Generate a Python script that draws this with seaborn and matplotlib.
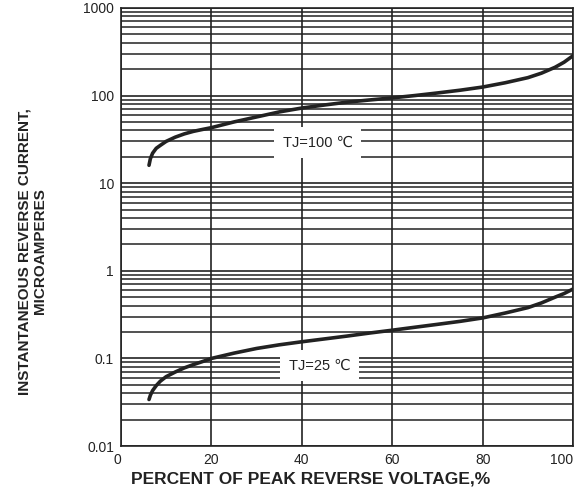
import numpy as np
import pandas as pd
import matplotlib
matplotlib.use("Agg")
import matplotlib.pyplot as plt
import seaborn as sns
from matplotlib.ticker import FixedLocator, LogLocator, NullFormatter

# curve data (percent of peak reverse voltage vs microamperes)
pct_100 = [6.2, 6.5, 7, 7.8, 8.7, 10, 12, 14, 16, 18, 20, 25, 30, 35, 40, 45, 50, 55, 60,
           65, 70, 75, 80, 85, 90, 93, 96, 98, 100]
cur_100 = [16, 19, 22, 25, 27, 30, 33.5, 36.5, 39, 41, 43, 50, 57, 65, 72, 78, 84, 89, 94,
           100, 107, 115, 125, 140, 160, 180, 210, 240, 285]
pct_25 = [6.2, 6.5, 7, 7.8, 8.7, 10, 12, 14, 16, 18, 20, 25, 30, 35, 40, 45, 50, 55, 60,
          65, 70, 75, 80, 85, 90, 93, 96, 98, 100]
cur_25 = [0.034, 0.038, 0.043, 0.049, 0.055, 0.062, 0.07, 0.078, 0.085, 0.092, 0.1, 0.115,
          0.13, 0.143, 0.155, 0.167, 0.18, 0.195, 0.21, 0.227, 0.245, 0.265, 0.29, 0.33,
          0.38, 0.43, 0.5, 0.55, 0.62]

x_ticks = [0, 20, 40, 60, 80, 100]
y_ticks = [0.01, 0.1, 1, 10, 100, 1000]
y_labels = ["0.01", "0.1", "1", "10", "100", "1000"]

df = pd.concat([
    pd.DataFrame({"pct": pct_100, "cur": cur_100, "tj": "100"}),
    pd.DataFrame({"pct": pct_25, "cur": cur_25, "tj": "25"}),
])

sns.set_style("white")
plt.rcParams["font.family"] = ["Liberation Sans", "DejaVu Sans"]

fig = plt.figure(figsize=(5.83, 4.94), dpi=100)
ax = fig.add_axes([0.2075, 0.097, 0.7755, 0.887])

ax.set_yscale("log")
ax.set_xlim(0, 100)
ax.set_ylim(0.01, 1000)

# grid lines
ax.xaxis.set_major_locator(FixedLocator(x_ticks))
ax.yaxis.set_major_locator(FixedLocator(y_ticks))
ax.yaxis.set_minor_locator(LogLocator(base=10, subs=np.arange(2, 10)))
ax.yaxis.set_minor_formatter(NullFormatter())
ax.set_xticklabels([str(v) for v in x_ticks])
ax.set_yticklabels(y_labels)
ax.grid(True, which="major", axis="both", color="#222222", linewidth=1.2)
ax.grid(True, which="minor", axis="y", color="#222222", linewidth=1.1)
ax.set_axisbelow(True)

sns.lineplot(data=df, x="pct", y="cur", units="tj", estimator=None,
             color="#222222", linewidth=2.6, ax=ax, sort=True,
             solid_joinstyle="round", solid_capstyle="round")

for s in ax.spines.values():
    s.set_color("#222222")
    s.set_linewidth(1.2)

ax.tick_params(axis="both", which="both", length=0, labelsize=10, colors="#222222", pad=5)
xt = ax.get_xticklabels()
xt[0].set_horizontalalignment("right")
xt[-1].set_horizontalalignment("right")

ax.text(43.5, 29, "TJ=100 \u2103", ha="center", va="center", fontsize=10.5, color="#222222",
        bbox=dict(boxstyle="square,pad=0.6", fc="white", ec="none"), zorder=5)
ax.text(44, 0.083, "TJ=25 \u2103", ha="center", va="center", fontsize=10.5, color="#222222",
        bbox=dict(boxstyle="square,pad=0.6", fc="white", ec="none"), zorder=5)

ax.set_xlabel("PERCENT OF PEAK REVERSE VOLTAGE,%", fontsize=12.5, fontweight="bold", color="#222222")
ax.xaxis.set_label_coords(0.42, -0.057)
ax.xaxis.label.set_verticalalignment("top")
ax.set_ylabel("INSTANTANEOUS REVERSE CURRENT,\nMICROAMPERES", fontsize=11, fontweight="bold",
              color="#222222", linespacing=1.1)
ax.yaxis.set_label_coords(-0.164, 0.445)

fig.savefig("out.png", dpi=100)
